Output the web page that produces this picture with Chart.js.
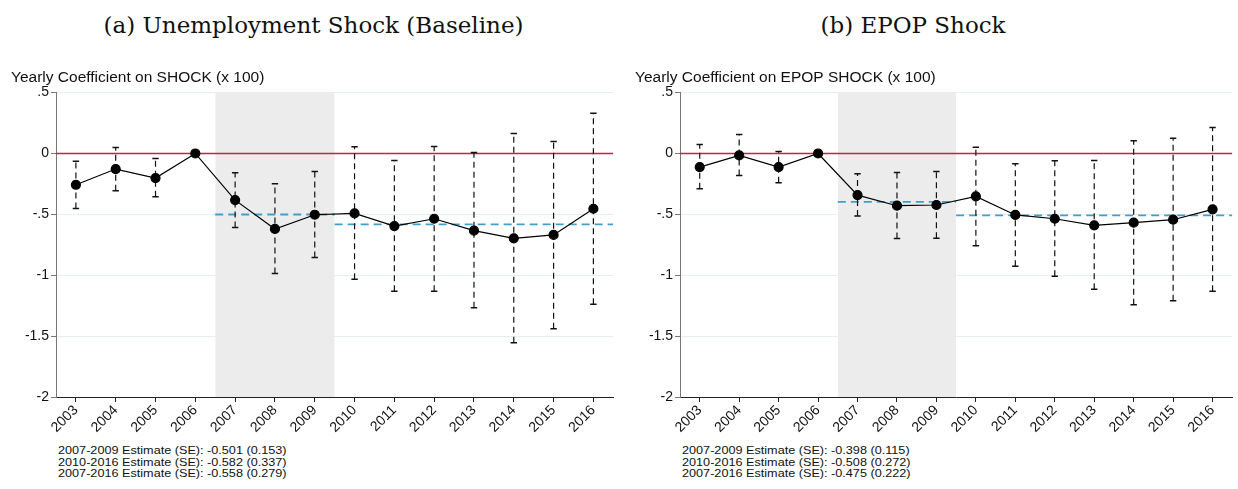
<!DOCTYPE html>
<html>
<head>
<meta charset="utf-8">
<script src="https://cdn.jsdelivr.net/npm/chart.js@4.4.1/dist/chart.umd.min.js"></script>
<style>
  body { margin: 0; background: #fff; width: 1238px; height: 489px; overflow: hidden; position: relative; }
  .ptitle { position: absolute; top: 11px; font-family: "DejaVu Serif", serif; font-size: 23px; line-height: 28px; color: #111; text-align: center; }
  .box { position: absolute; top: 66px; height: 377px; }
  .note { position: absolute; top: 445px; font-family: "Liberation Sans", Arial, sans-serif; font-size: 11px; line-height: 11.5px; color: #111; transform: scaleX(1.15); transform-origin: left top; }
</style>
</head>
<body>
<div class="ptitle" style="left:0; width:627px;">(a) Unemployment Shock (Baseline)</div>
<div class="ptitle" style="left:620px; width:586px;">(b) EPOP Shock</div>
<div class="box" style="left:0; width:619px;"><canvas id="chartA"></canvas></div>
<div class="box" style="left:624px; width:614px;"><canvas id="chartB"></canvas></div>
<div class="note" style="left:58px;">2007-2009 Estimate (SE): -0.501 (0.153)<br>2010-2016 Estimate (SE): -0.582 (0.337)<br>2007-2016 Estimate (SE): -0.558 (0.279)</div>
<div class="note" style="left:682px;">2007-2009 Estimate (SE): -0.398 (0.115)<br>2010-2016 Estimate (SE): -0.508 (0.272)<br>2007-2016 Estimate (SE): -0.475 (0.222)</div>
<script>
// years and tick values
const years = [2003, 2004, 2005, 2006, 2007, 2008, 2009, 2010, 2011, 2012, 2013, 2014, 2015, 2016];
const yTicks = [0.5, 0, -0.5, -1, -1.5, -2];

// panel (a) unemployment shock
const coefA = [-0.257, -0.128, -0.202, 0, -0.383, -0.620, -0.503, -0.492, -0.596, -0.536, -0.634, -0.697, -0.669, -0.454];
const hiA   = [-0.063, 0.049, -0.041, null, -0.158, -0.249, -0.148, 0.055, -0.057, 0.057, 0.008, 0.164, 0.098, 0.331];
const loA   = [-0.451, -0.306, -0.355, null, -0.607, -0.986, -0.855, -1.033, -1.131, -1.131, -1.268, -1.555, -1.440, -1.238];
const periodA = [-0.501, -0.582];

// panel (b) EPOP shock
const coefB = [-0.112, -0.016, -0.112, 0, -0.342, -0.429, -0.423, -0.352, -0.505, -0.536, -0.590, -0.568, -0.544, -0.459];
const hiB   = [0.074, 0.156, 0.016, null, -0.167, -0.156, -0.148, 0.052, -0.085, -0.060, -0.057, 0.104, 0.126, 0.213];
const loB   = [-0.290, -0.180, -0.240, null, -0.514, -0.699, -0.697, -0.757, -0.926, -1.008, -1.115, -1.243, -1.210, -1.131];
const periodB = [-0.398, -0.508];

// recession shading and period breaks
const xMin = 2002.5, xMax = 2016.5;
const shadeFrom = 2006.5, shadeTo = 2009.5;

const font = "'Liberation Sans', Arial, sans-serif";

function buildChart(id, yTitle, coef, hi, lo, period) {
    // error bars: one segment per year, separated by nulls
    const bars = [];
    const caps = [];
    years.forEach(function (yr, i) {
        if (hi[i] === null) return;
        bars.push({ x: yr, y: lo[i] }, { x: yr, y: hi[i] }, { x: yr, y: null });
        caps.push({ x: yr, y: lo[i] }, { x: yr, y: hi[i] });
    });

    const ctx = document.getElementById(id).getContext('2d');
    return new Chart(ctx, {
        type: 'line',
        data: {
            datasets: [
                {
                    // shaded 2007-2009 band
                    data: [{ x: shadeFrom, y: yTicks[0] }, { x: shadeTo, y: yTicks[0] }],
                    fill: 'start',
                    backgroundColor: '#ececec',
                    borderWidth: 0,
                    pointRadius: 0,
                    order: 10
                },
                {
                    data: [{ x: xMin, y: 0 }, { x: xMax, y: 0 }],
                    borderColor: '#cc1f48',
                    borderWidth: 1.6,
                    pointRadius: 0,
                    order: 9
                },
                {
                    data: [{ x: shadeFrom, y: period[0] }, { x: shadeTo, y: period[0] }],
                    borderColor: '#3f9fca',
                    borderWidth: 1.8,
                    borderDash: [8, 5],
                    pointRadius: 0,
                    order: 8
                },
                {
                    data: [{ x: shadeTo, y: period[1] }, { x: xMax, y: period[1] }],
                    borderColor: '#3f9fca',
                    borderWidth: 1.8,
                    borderDash: [8, 5],
                    pointRadius: 0,
                    order: 8
                },
                {
                    data: bars,
                    borderColor: '#111',
                    borderWidth: 1.2,
                    borderDash: [6, 4],
                    spanGaps: false,
                    pointRadius: 0,
                    order: 5
                },
                {
                    data: caps,
                    showLine: false,
                    pointStyle: 'line',
                    pointRadius: 3.2,
                    borderColor: '#111',
                    borderWidth: 1.5,
                    order: 4
                },
                {
                    data: years.map(function (yr, i) { return { x: yr, y: coef[i] }; }),
                    borderColor: '#000',
                    borderWidth: 1.2,
                    pointRadius: 4.5,
                    pointBackgroundColor: '#000',
                    pointBorderColor: '#000',
                    order: 1
                }
            ]
        },
        options: {
            responsive: true,
            maintainAspectRatio: false,
            animation: false,
            layout: { padding: { left: 11, right: 5, top: 0, bottom: 0 } },
            plugins: {
                legend: { display: false },
                tooltip: { enabled: false },
                title: {
                    display: true,
                    text: yTitle,
                    align: 'start',
                    color: '#111',
                    font: { family: font, size: 15.5, weight: 'normal' },
                    padding: { top: 2, bottom: 6 }
                }
            },
            scales: {
                x: {
                    type: 'linear',
                    min: xMin,
                    max: xMax,
                    afterBuildTicks: function (scale) {
                        scale.ticks = years.map(function (v) { return { value: v }; });
                    },
                    afterFit: function (scale) { scale.height = 46; },
                    grid: { drawOnChartArea: false, tickLength: 5, color: '#222' },
                    border: { color: '#222', width: 1 },
                    ticks: {
                        minRotation: 45,
                        maxRotation: 45,
                        padding: 0,
                        color: '#111',
                        font: { family: font, size: 14 },
                        callback: function (v) { return String(v); }
                    }
                },
                y: {
                    min: yTicks[yTicks.length - 1],
                    max: yTicks[0],
                    afterBuildTicks: function (scale) {
                        scale.ticks = yTicks.map(function (v) { return { value: v }; });
                    },
                    afterFit: function (scale) { scale.width = 45; },
                    grid: { color: '#e6eeee', lineWidth: 1, tickColor: '#777', tickLength: 5 },
                    border: { color: '#777', width: 1 },
                    ticks: {
                        padding: 2,
                        color: '#111',
                        font: { family: font, size: 14 },
                        callback: function (v) {
                            return String(v).replace(/^(-?)0\./, '$1.');
                        }
                    }
                }
            }
        }
    });
}

buildChart('chartA', 'Yearly Coefficient on SHOCK (x 100)', coefA, hiA, loA, periodA);
buildChart('chartB', 'Yearly Coefficient on EPOP SHOCK (x 100)', coefB, hiB, loB, periodB);
</script>
</body>
</html>
